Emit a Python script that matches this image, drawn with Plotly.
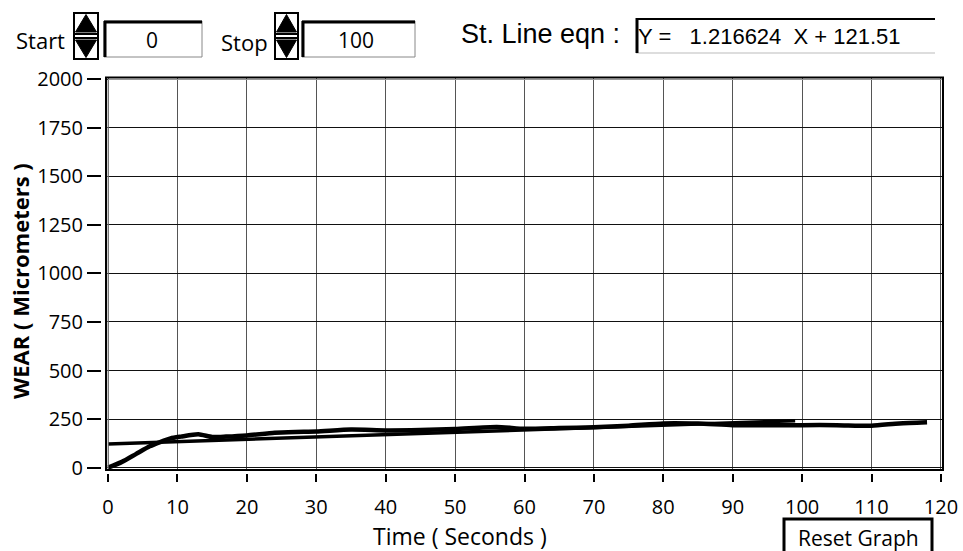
import plotly.graph_objects as go

W, H = 963, 551

# ---------------- data ----------------
time_s = [0, 2, 4, 6, 7.5, 9, 10.5, 13, 15, 17, 20, 24, 27, 30, 35, 40, 45, 50,
          56, 60, 65, 70, 75, 80, 85, 90, 95, 100, 105, 110, 114, 118]
wear_um = [0, 30, 70, 110, 132, 151, 160, 172, 158, 160, 166, 180, 184, 186, 196, 192, 194, 199,
           210, 200, 204, 208, 216, 228, 227, 219, 219, 219, 219, 216, 228, 234]
fit_time = [0, 99]
fit_wear = [121.51, 241.96]
x_ticks = list(range(0, 121, 10))
y_ticks = list(range(0, 2001, 250))
start_val = "0"
stop_val = "100"
eqn_label = "St. Line eqn :"
eqn_text = "Y =   1.216624  X + 121.51"
x_title = "Time ( Seconds )"
y_title = "<b>WEAR ( Micrometers )</b>"
button_text = "Reset Graph"

SANS = "Open Sans"
ARIAL = "Liberation Sans"


def px(x):
    return x / W


def py(y):
    return 1 - y / H


fig = go.Figure()
fig.add_trace(go.Scatter(x=time_s, y=wear_um, mode="lines",
                         line=dict(color="black", width=4.5, shape="spline", smoothing=0.6),
                         hoverinfo="x+y"))
fig.add_trace(go.Scatter(x=fit_time, y=fit_wear, mode="lines",
                         line=dict(color="black", width=3.5), hoverinfo="x+y"))

PL, PR, PT, PB = 106, 943, 77.5, 470
tickfont = dict(family=SANS, size=20, color="black")

fig.update_layout(
    template="none",
    width=W, height=H, margin=dict(l=0, r=0, t=0, b=0, autoexpand=False),
    paper_bgcolor="white", plot_bgcolor="white", showlegend=False,
    xaxis=dict(domain=[px(PL), px(PR)], range=[-0.3, 120.3], anchor="free", position=py(473),
               automargin=False, ticklabelstandoff=8,
               tickvals=x_ticks, ticks="outside", ticklen=8, tickwidth=2, tickcolor="black",
               showgrid=True, gridcolor="#555555", gridwidth=1, zeroline=False, showline=False,
               tickfont=tickfont),
    yaxis=dict(domain=[py(PB), py(PT)], range=[-11.8, 2007.7], anchor="free", position=px(101),
               automargin=False,
               tickvals=y_ticks, ticks="outside", ticklen=14, tickwidth=2, tickcolor="black",
               showgrid=True, gridcolor="#111111", gridwidth=1, zeroline=False, showline=False,
               tickfont=tickfont),
)

shapes = []
# plot border
shapes.append(dict(type="rect", xref="paper", yref="paper", x0=px(PL), x1=px(PR), y0=py(PB), y1=py(PT),
                   line=dict(color="black", width=2), layer="above"))
shapes.append(dict(type="line", xref="paper", yref="paper", x0=px(PL + 2), x1=px(PR - 1), y0=py(PT + 2), y1=py(PT + 2),
                   line=dict(color="#999999", width=1), layer="above"))
shapes.append(dict(type="line", xref="paper", yref="paper", x0=px(PL + 2), x1=px(PL + 2), y0=py(PB - 1), y1=py(PT + 2),
                   line=dict(color="#999999", width=1), layer="above"))


def spinner(x0, x1, y0, y1):
    shapes.append(dict(type="rect", xref="paper", yref="paper", x0=px(x0), x1=px(x1), y0=py(y1), y1=py(y0),
                       line=dict(color="black", width=2), fillcolor="white"))
    xm = (x0 + x1) / 2
    # up triangle
    shapes.append(dict(type="path", xref="paper", yref="paper",
                       path=f"M {px(x0+1.5)},{py(y0+19)} L {px(xm)},{py(y0+1.5)} L {px(x1-1.5)},{py(y0+19)} Z",
                       fillcolor="black", line=dict(color="black", width=1)))
    # divider
    shapes.append(dict(type="line", xref="paper", yref="paper", x0=px(x0), x1=px(x1), y0=py(y0+21), y1=py(y0+21),
                       line=dict(color="black", width=2)))
    shapes.append(dict(type="line", xref="paper", yref="paper", x0=px(x0), x1=px(x1), y0=py(y0+25), y1=py(y0+25),
                       line=dict(color="black", width=2)))
    # down triangle
    shapes.append(dict(type="path", xref="paper", yref="paper",
                       path=f"M {px(x0+1.5)},{py(y0+27)} L {px(xm)},{py(y1-1.5)} L {px(x1-1.5)},{py(y0+27)} Z",
                       fillcolor="black", line=dict(color="black", width=1)))


def numbox(x0, x1, y0, y1):
    shapes.append(dict(type="rect", xref="paper", yref="paper", x0=px(x0), x1=px(x1), y0=py(y1), y1=py(y0),
                       line=dict(color="#888888", width=1), fillcolor="white"))
    shapes.append(dict(type="line", xref="paper", yref="paper", x0=px(x0), x1=px(x1), y0=py(y0+1), y1=py(y0+1),
                       line=dict(color="black", width=3)))
    shapes.append(dict(type="line", xref="paper", yref="paper", x0=px(x0+1), x1=px(x0+1), y0=py(y0), y1=py(y1),
                       line=dict(color="black", width=3)))


spinner(74, 98, 13, 59)
numbox(104, 202, 21, 57)
spinner(275, 298, 13, 59)
numbox(302, 415, 21, 57)

# equation box
shapes.append(dict(type="line", xref="paper", yref="paper", x0=px(636), x1=px(935), y0=py(53), y1=py(53),
                   line=dict(color="#bbbbbb", width=1)))
shapes.append(dict(type="line", xref="paper", yref="paper", x0=px(636), x1=px(935), y0=py(19), y1=py(19),
                   line=dict(color="black", width=2)))
shapes.append(dict(type="line", xref="paper", yref="paper", x0=px(637), x1=px(637), y0=py(18), y1=py(53),
                   line=dict(color="black", width=3)))

# reset button
shapes.append(dict(type="rect", xref="paper", yref="paper", x0=px(784), x1=px(932), y0=py(565), y1=py(519),
                   line=dict(color="black", width=3)))

fig.update_layout(shapes=shapes)

ann = []


def text(x, y, s, size, family=SANS, xanchor="left", textangle=0):
    ann.append(dict(x=px(x), y=py(y), xref="paper", yref="paper", text=s, showarrow=False,
                    xanchor=xanchor, yanchor="middle", textangle=textangle,
                    font=dict(family=family, size=size, color="black")))


text(14, 40, "Start", 22)
text(152, 40, start_val, 21, xanchor="center")
text(219, 42, "Stop", 22)
text(356, 40, stop_val, 21, xanchor="center")
text(459, 34, eqn_label, 27, family=ARIAL)
text(636, 36, eqn_text, 22, family=ARIAL)
text(460, 536, x_title, 23, xanchor="center")
text(20, 281, y_title, 22, xanchor="center", textangle=-90)
text(858, 538, button_text, 21, xanchor="center")

fig.update_layout(annotations=ann)

fig.write_html("out.html")
